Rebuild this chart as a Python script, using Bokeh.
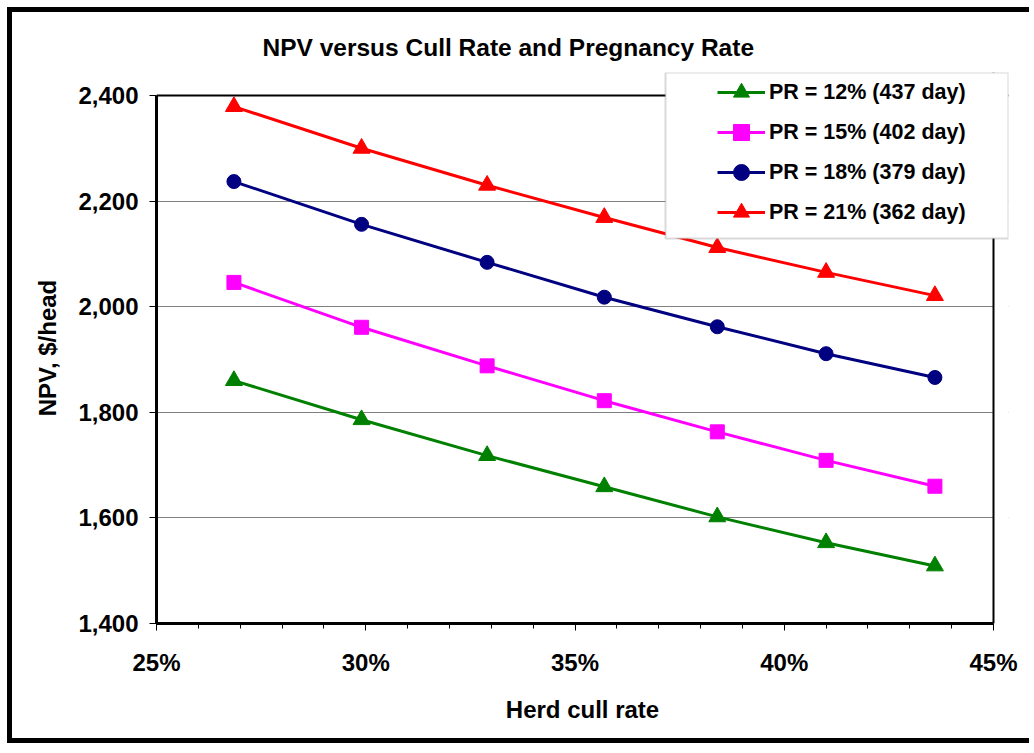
from bokeh.plotting import figure
from bokeh.models import (ColumnDataSource, Range1d, SingleIntervalTicker, NumeralTickFormatter,
                          Legend, LegendItem, BoxAnnotation, Title, Span)
from bokeh.embed import file_html
from bokeh.resources import INLINE

# ---- data ----
cull_rate = [0.2685, 0.299, 0.329, 0.357, 0.384, 0.410, 0.436]
npv_pr12 = [1860, 1786, 1718, 1659, 1602, 1553, 1509]
npv_pr15 = [2046, 1961, 1888, 1822, 1763, 1709, 1660]
npv_pr18 = [2237, 2156, 2084, 2018, 1962, 1911, 1866]
npv_pr21 = [2379, 2300, 2230, 2169, 2112, 2065, 2021]
series_labels = ["PR = 12% (437 day)", "PR = 15% (402 day)", "PR = 18% (379 day)", "PR = 21% (362 day)"]
series_colors = ["#008000", "#FF00FF", "#000080", "#FF0000"]
series_markers = ["triangle", "square", "circle", "triangle"]
series_values = [npv_pr12, npv_pr15, npv_pr18, npv_pr21]
x_min, x_max = 0.25, 0.45
y_min, y_max = 1400, 2400

FONT = "Liberation Sans"
W, H = 1022, 736
# visible plot box in canvas px: left 144, top 83, right 981, bottom 611
# frame extended up/right so that the legend (which overhangs the box) is not clipped
box_l, box_t, box_r, box_b = 144, 83, 981, 611
ext_top, ext_right = 23, 15
px_x = (box_r - box_l) / (x_max - x_min)
px_y = (box_b - box_t) / (y_max - y_min)

p = figure(width=W, height=H, output_backend="svg", toolbar_location=None,
           x_range=Range1d(x_min, x_max + ext_right / px_x),
           y_range=Range1d(y_min, y_max + ext_top / px_y),
           min_border_left=box_l, min_border_top=box_t - ext_top,
           min_border_right=W - box_r - ext_right, min_border_bottom=H - box_b)
p.styles = {"border-left": "5px solid black", "border-top": "5px solid black",
            "border-bottom": "5px solid black", "margin-left": "7px", "margin-top": "7px"}

p.title = Title(text="NPV versus Cull Rate and Pregnancy Rate", align="left", offset=106,
                text_font=FONT, text_font_size="24.5px", text_font_style="bold",
                standoff=23, text_color="black")

p.outline_line_color = None
p.background_fill_color = "white"
p.border_fill_color = "white"

p.xgrid.visible = False
p.ygrid.grid_line_color = "#808080"
p.ygrid.grid_line_width = 1

p.xaxis.ticker = SingleIntervalTicker(interval=0.05, num_minor_ticks=5)
p.yaxis.ticker = SingleIntervalTicker(interval=200, num_minor_ticks=0)
p.xaxis.formatter = NumeralTickFormatter(format="0%")
p.yaxis.formatter = NumeralTickFormatter(format="0,0")
p.xaxis.bounds = (x_min, x_max)
p.yaxis.bounds = (y_min, y_max)

for ax in (p.xaxis, p.yaxis):
    ax.axis_line_color = "black"
    ax.axis_line_width = 3
    ax.major_tick_line_color = "black"
    ax.major_tick_out = 7
    ax.major_tick_in = 0
    ax.minor_tick_line_color = "black"
    ax.minor_tick_out = 5
    ax.minor_tick_in = 0
    ax.major_label_text_font = FONT
    ax.major_label_text_font_size = "24px"
    ax.major_label_text_font_style = "bold"
    ax.major_label_text_color = "black"
    ax.axis_label_text_font = FONT
    ax.axis_label_text_font_size = "24px"
    ax.axis_label_text_font_style = "bold"
    ax.axis_label_text_color = "black"

p.xaxis.axis_label = "Herd cull rate"
p.yaxis.axis_label = "NPV, $/head"
p.xaxis.major_label_standoff = 18
p.yaxis.major_label_standoff = 11
p.xaxis.axis_label_standoff = 17
p.yaxis.axis_label_standoff = 14

# white cover for grid lines beyond the right edge of the plot box
cover = BoxAnnotation(left=x_max, fill_color="white", fill_alpha=1, line_color=None, level="underlay")
p.add_layout(cover)
# top and right edges of the plot box
p.add_layout(Span(location=y_max, dimension="width", line_color="black", line_width=2, level="underlay"))
p.add_layout(Span(location=x_max, dimension="height", line_color="black", line_width=2, level="underlay"))

items = []
for lab, col, mk, vals in zip(series_labels, series_colors, series_markers, series_values):
    src = ColumnDataSource(dict(x=cull_rate, y=vals))
    r1 = p.line("x", "y", source=src, line_color=col, line_width=3)
    sz = {"triangle": 17, "square": 14, "circle": 14}[mk]
    r2 = p.scatter("x", "y", source=src, marker=mk, size=sz, fill_color=col, line_color=col)
    items.append(LegendItem(label=lab, renderers=[r1, r2]))

# legend box (frame-relative screen px) and legend items inside it
lg_l, lg_r, lg_t, lg_b = 509, 852, 551, 385
legend_box = BoxAnnotation(left=lg_l, right=lg_r, bottom=lg_b, top=lg_t,
                           left_units="screen", right_units="screen",
                           bottom_units="screen", top_units="screen",
                           fill_color="white", fill_alpha=1, line_color="#808080",
                           line_width=2, level="overlay")
p.add_layout(legend_box)
legend = Legend(items=items, location=(561, 391), padding=0, spacing=0,
                glyph_width=48, glyph_height=40, label_height=40, label_standoff=4,
                label_text_font=FONT, label_text_font_size="21.5px", label_text_font_style="bold",
                label_text_color="black", border_line_alpha=0, background_fill_alpha=0)
p.add_layout(legend, "center")

open("out.html", "w").write(file_html(p, INLINE))
